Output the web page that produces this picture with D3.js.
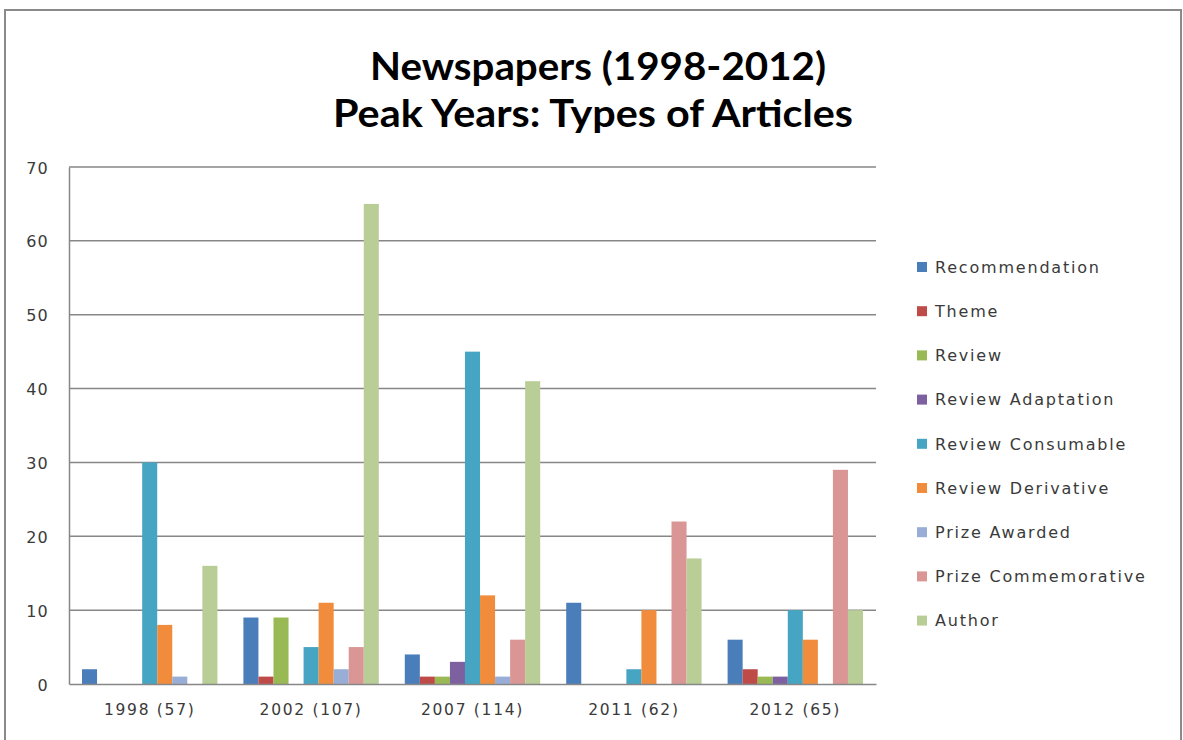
<!DOCTYPE html>
<html>
<head>
<meta charset="utf-8">
<script src="https://cdn.jsdelivr.net/npm/d3@7"></script>
<style>
  html, body { margin: 0; padding: 0; background: #fff; }
  svg { display: block; }
  text { font-family: "DejaVu Sans", Verdana, sans-serif; }
  text.title { font-family: Lato, "Open Sans", sans-serif; font-weight: bold; }
</style>
</head>
<body>
<svg id="chart" width="1183" height="740"></svg>
<script>
// Peak years with total article counts
const years = ["1998 (57)", "2002 (107)", "2007 (114)", "2011 (62)", "2012 (65)"];

// Article types, in legend / bar order
const types = [
  "Recommendation", "Theme", "Review", "Review Adaptation", "Review Consumable",
  "Review Derivative", "Prize Awarded", "Prize Commemorative", "Author"
];

// Counts per article type, one value per peak year
const recommendation     = [2, 9, 4, 11, 6];
const theme              = [0, 1, 1, 0, 2];
const review             = [0, 9, 1, 0, 1];
const reviewAdaptation   = [0, 0, 3, 0, 1];
const reviewConsumable   = [30, 5, 45, 2, 10];
const reviewDerivative   = [8, 11, 12, 10, 6];
const prizeAwarded       = [1, 2, 1, 0, 0];
const prizeCommemorative = [0, 5, 6, 22, 29];
const author             = [16, 65, 41, 17, 10];

const yTicks = [0, 10, 20, 30, 40, 50, 60, 70];

const seriesValues = [
  recommendation, theme, review, reviewAdaptation, reviewConsumable,
  reviewDerivative, prizeAwarded, prizeCommemorative, author
];

const colors = [
  "#4a7ebb", "#be4b48", "#98b954", "#7d60a0", "#46a5c2",
  "#f08c3c", "#98aed6", "#d99694", "#b9cd96"
];

const svg = d3.select("#chart");
const W = 1183, H = 740;

// Chart frame
svg.append("rect")
  .attr("x", 0).attr("y", 0).attr("width", W).attr("height", H)
  .attr("fill", "#fff");
svg.append("rect")
  .attr("x", 5).attr("y", 10).attr("width", 1176).attr("height", 760)
  .attr("fill", "none").attr("stroke", "#8a8a8a").attr("stroke-width", 2);

// Title
const title = svg.append("g").attr("fill", "#000").attr("text-anchor", "middle");
title.append("text")
  .attr("class", "title")
  .attr("x", 598).attr("y", 80)
  .attr("font-size", 38)
  .attr("textLength", 456).attr("lengthAdjust", "spacingAndGlyphs")
  .text("Newspapers (1998-2012)");
title.append("text")
  .attr("class", "title")
  .attr("x", 593).attr("y", 127)
  .attr("font-size", 38)
  .attr("textLength", 520).attr("lengthAdjust", "spacingAndGlyphs")
  .text("Peak Years: Types of Articles");

// Plot area
const plot = { left: 69, right: 876, top: 167, bottom: 684 };

const y = d3.scaleLinear().domain([0, 70]).range([plot.bottom, plot.top]);
const x0 = d3.scaleBand().domain(years).range([plot.left, plot.right]).padding(0);
const groupPad = 13;
const x1 = d3.scaleBand().domain(types)
  .range([groupPad, x0.bandwidth() - groupPad]).padding(0);

// Gridlines
svg.append("g")
  .selectAll("line")
  .data(yTicks.filter(d => d > 0))
  .join("line")
  .attr("x1", plot.left).attr("x2", plot.right)
  .attr("y1", d => y(d)).attr("y2", d => y(d))
  .attr("stroke", "#878787").attr("stroke-width", 1.5);

// Y axis
const yAxis = svg.append("g")
  .attr("transform", `translate(${plot.left},0)`)
  .call(d3.axisLeft(y).tickValues(yTicks).tickSize(0).tickPadding(20));
yAxis.select(".domain").attr("stroke", "#878787").attr("stroke-width", 1.5);
yAxis.selectAll("text")
  .style("font-family", "'DejaVu Sans', Verdana, sans-serif")
  .attr("font-size", 16).attr("fill", "#3a3a3a")
  .style("letter-spacing", "1.2px")
  .attr("dy", "0.38em");

// Bars
const groups = svg.append("g")
  .selectAll("g")
  .data(years)
  .join("g")
  .attr("transform", d => `translate(${x0(d)},0)`);

groups.selectAll("rect")
  .data((yr, i) => types.map((t, s) => ({ type: t, s, value: seriesValues[s][i] })))
  .join("rect")
  .attr("x", d => x1(d.type))
  .attr("width", x1.bandwidth())
  .attr("y", d => y(d.value))
  .attr("height", d => y(0) - y(d.value))
  .attr("fill", d => colors[d.s]);

// X axis
const xAxis = svg.append("g")
  .attr("transform", `translate(0,${plot.bottom})`)
  .call(d3.axisBottom(x0).tickSize(0).tickPadding(20));
xAxis.select(".domain").attr("stroke", "#878787").attr("stroke-width", 1.5);
xAxis.selectAll("text")
  .style("font-family", "'DejaVu Sans', Verdana, sans-serif")
  .attr("font-size", 15.5).attr("fill", "#3a3a3a")
  .style("letter-spacing", "1.7px");

// Legend
const legend = svg.append("g").attr("transform", "translate(917,267)");
const items = legend.selectAll("g")
  .data(types)
  .join("g")
  .attr("transform", (d, i) => `translate(0,${i * 44.2})`);
items.append("rect")
  .attr("x", 0).attr("y", -5).attr("width", 10).attr("height", 10)
  .attr("fill", (d, i) => colors[i]);
items.append("text")
  .attr("x", 18).attr("y", 0).attr("dy", "0.36em")
  .attr("font-size", 16).attr("fill", "#3a3a3a")
  .style("letter-spacing", "1.8px")
  .text(d => d);
</script>
</body>
</html>
